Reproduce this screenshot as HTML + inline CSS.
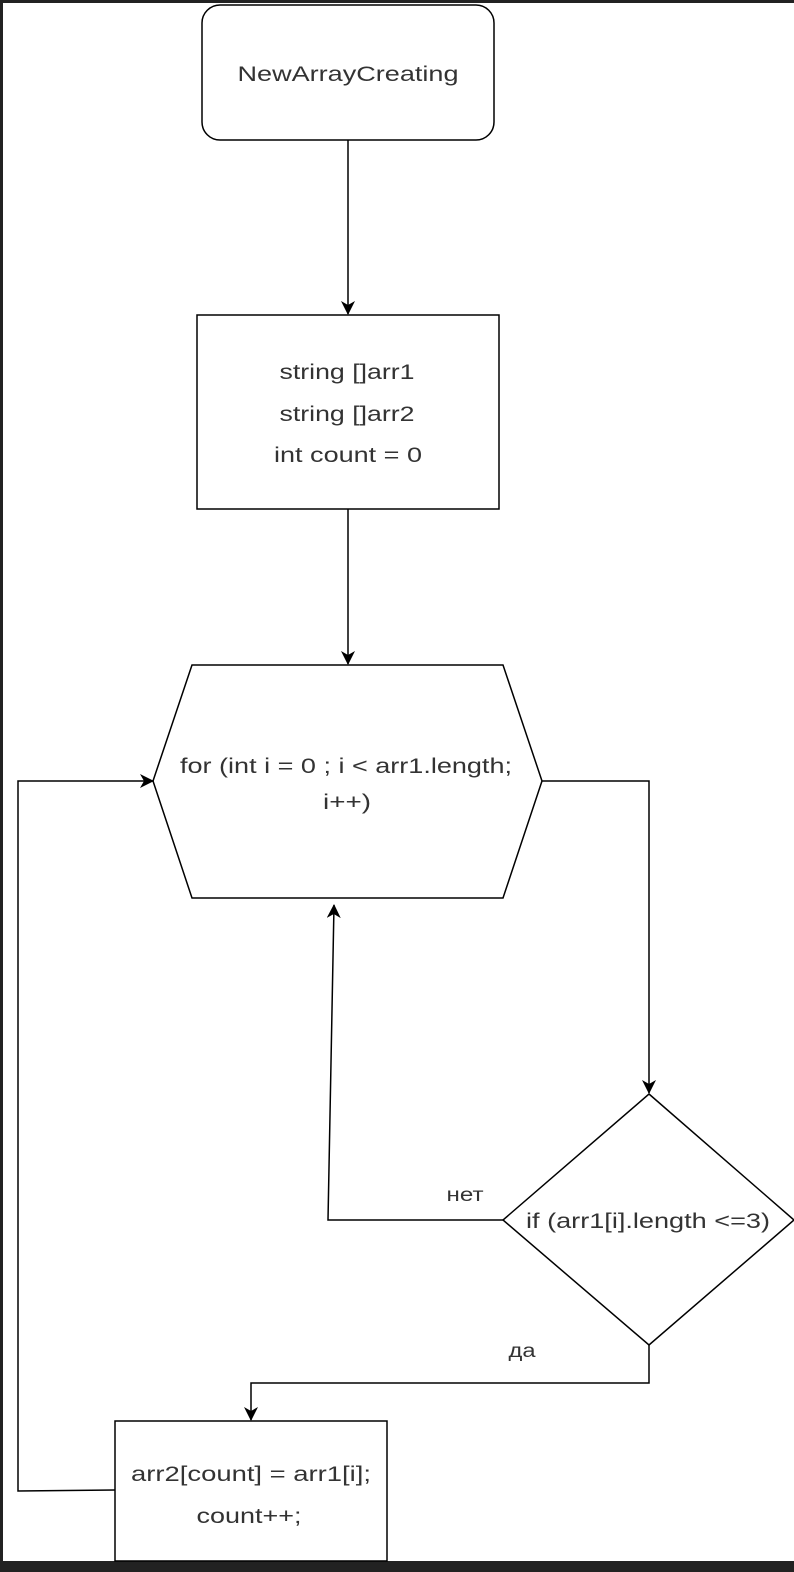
<!DOCTYPE html>
<html><head><meta charset="utf-8"><style>
html,body{margin:0;padding:0;background:#fff}
svg{display:block}
text{font-family:"Liberation Sans",sans-serif;font-size:21px;fill:#333;text-anchor:middle}
</style></head><body>
<svg width="794" height="1572" viewBox="0 0 794 1572" xmlns="http://www.w3.org/2000/svg">
<defs><marker id="a" markerWidth="14" markerHeight="14" refX="13" refY="7" orient="auto" markerUnits="userSpaceOnUse"><path d="M0,0 L14,7 L0,14 L4,7 Z" fill="#000"/></marker></defs>
<rect x="0" y="0" width="794" height="1572" fill="#fff"/>
<rect x="0" y="0" width="794" height="3" fill="#222"/>
<rect x="0" y="0" width="3" height="1572" fill="#222"/>
<rect x="0" y="1561" width="794" height="11" fill="#222"/>
<g fill="none" stroke="#000" stroke-width="1.5">
<rect x="202" y="5" width="292" height="135" rx="18"/>
<line x1="348" y1="140" x2="348" y2="314" marker-end="url(#a)"/>
<rect x="197" y="315" width="302" height="194"/>
<line x1="348" y1="509" x2="348" y2="664" marker-end="url(#a)"/>
<polygon points="192,665 503,665 542,781 503,898 192,898 153,781"/>
<polyline points="542,781 649,781 649,1093" marker-end="url(#a)"/>
<polygon points="649,1094 794,1220 649,1345 503,1220"/>
<polyline points="503,1220 328,1220 334,905" marker-end="url(#a)"/>
<polyline points="649,1345 649,1383 251,1383 251,1420" marker-end="url(#a)"/>
<rect x="115" y="1421" width="272" height="140"/>
<polyline points="115,1490 18,1491 18,781 153,781" marker-end="url(#a)"/>
</g>
<text x="348" y="81" textLength="221" lengthAdjust="spacingAndGlyphs">NewArrayCreating</text>
<text x="347" y="379" textLength="135" lengthAdjust="spacingAndGlyphs">string []arr1</text>
<text x="347" y="421" textLength="135" lengthAdjust="spacingAndGlyphs">string []arr2</text>
<text x="348" y="462" textLength="148" lengthAdjust="spacingAndGlyphs">int count = 0</text>
<text x="346" y="773" textLength="332" lengthAdjust="spacingAndGlyphs">for (int i = 0 ; i &lt; arr1.length;</text>
<text x="347" y="809" textLength="48" lengthAdjust="spacingAndGlyphs">i++)</text>
<text x="648" y="1228" textLength="244" lengthAdjust="spacingAndGlyphs">if (arr1[i].length &lt;=3)</text>
<text x="465" y="1201" style="font-size:19px" textLength="37" lengthAdjust="spacingAndGlyphs">нет</text>
<text x="522" y="1357" style="font-size:19px" textLength="27" lengthAdjust="spacingAndGlyphs">да</text>
<text x="251" y="1481" textLength="240" lengthAdjust="spacingAndGlyphs">arr2[count] = arr1[i];</text>
<text x="249" y="1523" textLength="105" lengthAdjust="spacingAndGlyphs">count++;</text>
</svg>
</body></html>
